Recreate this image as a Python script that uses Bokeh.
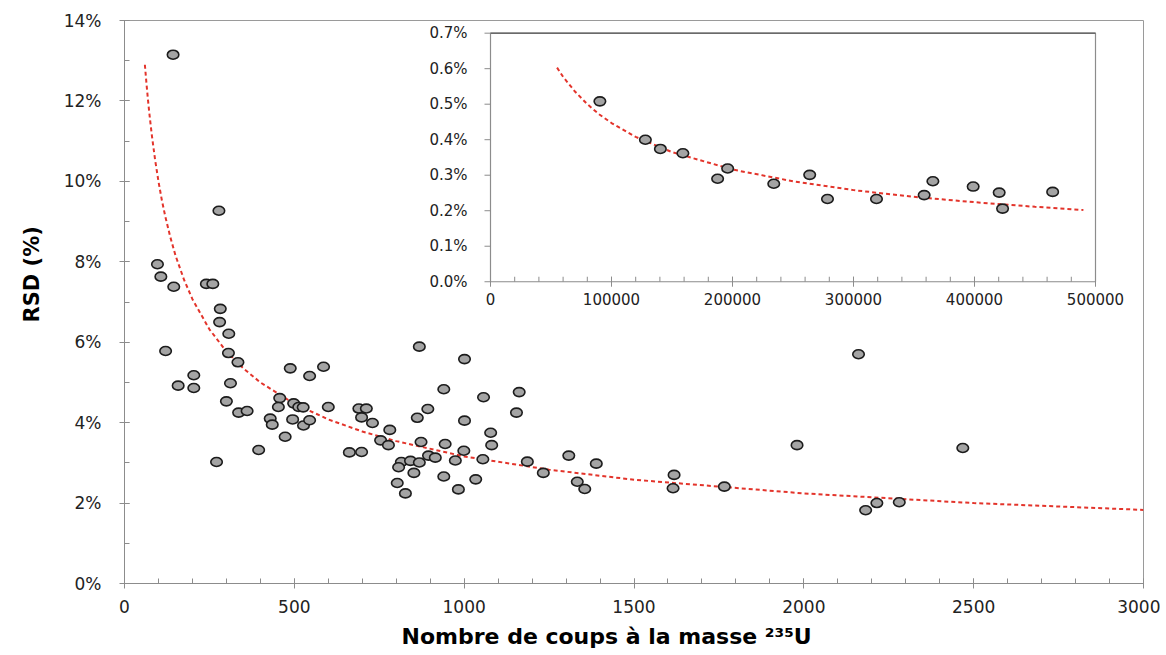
from bokeh.plotting import figure
from bokeh.models import Range1d, SingleIntervalTicker, PrintfTickFormatter, Title
from bokeh.embed import file_html
from bokeh.resources import INLINE
from bokeh.core.properties import value

# ---------------- data ----------------
counts = [143, 278, 97, 107, 145, 241, 260, 282, 280, 307, 121, 306, 334, 488, 586, 545,
          204, 158, 204, 312, 300, 457, 453, 498, 513, 526, 600, 336, 361, 429, 435, 495,
          527, 545, 473, 395, 271, 690, 712, 698, 730, 754, 662, 698, 868, 1001, 940, 893,
          862, 1057, 1162, 1154, 1001, 781, 777, 1078, 1081, 873, 944, 999, 895, 915, 815,
          842, 868, 807, 852, 974, 1055, 1186, 1233, 940, 803, 827, 983, 1034, 1308, 1389,
          1333, 1355, 1618, 1615, 1766, 1980, 2161, 2182, 2215, 2281, 2468]
rsd = [13.15, 9.27, 7.94, 7.63, 7.38, 7.45, 7.45, 6.83, 6.50, 6.21, 5.78, 5.73, 5.50, 5.35,
       5.39, 5.16, 5.18, 4.92, 4.86, 4.98, 4.53, 4.61, 4.39, 4.48, 4.39, 4.38, 4.39, 4.25,
       4.29, 4.10, 3.95, 4.08, 3.93, 4.06, 3.65, 3.32, 3.02, 4.35, 4.35, 4.13, 3.99, 3.56,
       3.26, 3.27, 5.89, 5.58, 4.83, 4.34, 4.12, 4.63, 4.76, 4.25, 4.05, 3.82, 3.44, 3.75,
       3.44, 3.52, 3.47, 3.30, 3.18, 3.13, 3.02, 3.05, 3.01, 2.89, 2.75, 3.06, 3.09, 3.03,
       2.75, 2.66, 2.50, 2.24, 2.34, 2.59, 3.18, 2.98, 2.53, 2.35, 2.70, 2.37, 2.41, 3.44,
       5.70, 1.82, 2.00, 2.02, 3.37]

fit_counts = [60, 65, 70, 75, 80, 90, 100, 110, 120, 135, 150, 175, 200, 250, 300, 350,
              400, 500, 600, 700, 800, 1000, 1250, 1500, 2000, 2500, 3000]
fit_rsd = [12.9, 12.4, 11.95, 11.55, 11.18, 10.54, 10.0, 9.53, 9.13, 8.61, 8.16, 7.56,
           7.07, 6.32, 5.77, 5.35, 5.0, 4.47, 4.08, 3.78, 3.54, 3.16, 2.83, 2.58, 2.24,
           2.0, 1.83]

inset_counts = [90400, 128000, 140400, 159000, 187700, 196000, 234100, 263800, 278500,
                319000, 358400, 365600, 398900, 420400, 423200, 464600]
inset_rsd = [0.508, 0.400, 0.374, 0.362, 0.290, 0.319, 0.276, 0.301, 0.233, 0.233,
             0.244, 0.283, 0.268, 0.251, 0.206, 0.253]

inset_fit_counts = [55000, 60000, 70000, 80000, 90000, 100000, 120000, 150000, 200000,
                    250000, 300000, 350000, 400000, 450000, 490000]
inset_fit_rsd = [0.603, 0.577, 0.535, 0.50, 0.471, 0.447, 0.408, 0.365, 0.316, 0.283,
                 0.258, 0.239, 0.224, 0.211, 0.202]

inset_xticks = [0, 100000, 200000, 300000, 400000, 500000]
inset_xtick_labels = ["0", "100000", "200000", "300000", "400000", "500000"]
inset_xminor = [20000 * i for i in range(26)]
inset_yticks = [0.0, 0.1, 0.2, 0.3, 0.4, 0.5, 0.6, 0.7]
inset_ytick_labels = ["0.0%", "0.1%", "0.2%", "0.3%", "0.4%", "0.5%", "0.6%", "0.7%"]

x_title = "Nombre de coups à la masse ²³⁵U"
y_title = "RSD (%)"

# ---------------- layout ----------------
W, H = 1160, 655
FL, FR, FT, FB = 124, 1143, 20, 584          # main frame box (canvas px)
FW, FH = FR - FL, FB - FT
IL, IR, IT, IB = 490, 1095, 32.7, 281.7       # inset data box (canvas px)

AX = "#8c8c8c"
TXT = "#222222"
TICK_FONT = "DejaVu Sans"
TITLE_FONT = "DejaVu Sans"

p = figure(width=W, height=H, x_range=Range1d(0, 3000), y_range=Range1d(0, 14),
           output_backend="svg", toolbar_location=None,
           min_border_left=FL, min_border_right=W - FR,
           min_border_top=FT, min_border_bottom=H - FB)
p.grid.visible = False
p.outline_line_color = "#9a9a9a"
p.background_fill_color = "white"
p.border_fill_color = "white"

# main axes
p.xaxis.ticker = SingleIntervalTicker(interval=500, num_minor_ticks=5)
p.yaxis.ticker = SingleIntervalTicker(interval=2, num_minor_ticks=2)
p.yaxis.formatter = PrintfTickFormatter(format="%d%%")
for ax in (p.xaxis[0], p.yaxis[0]):
    ax.axis_line_color = AX
    ax.major_tick_line_color = AX
    ax.minor_tick_line_color = AX
    ax.major_tick_in = 5
    ax.major_tick_out = 5
    ax.minor_tick_in = 5
    ax.minor_tick_out = 0
    ax.major_label_text_font = TICK_FONT
    ax.major_label_text_font_size = "17px"
    ax.major_label_text_color = TXT
p.xaxis.major_label_standoff = 11
p.yaxis.major_label_standoff = 18

# axis titles as side titles (start-aligned with an offset along the axis)
p.add_layout(Title(text=y_title, align="left", offset=261, standoff=33,
                   text_font=TITLE_FONT, text_font_style="bold",
                   text_font_size="21px", text_color="black"), "left")
p.add_layout(Title(text=x_title, align="left", offset=277, standoff=13,
                   text_font=TITLE_FONT, text_font_style="bold",
                   text_font_size="22px", text_color="black"), "below")

# main data
p.line(fit_counts, fit_rsd, line_color="#e3342b", line_width=2, line_dash="4 3")
p.ellipse(counts, rsd, width=11.5, height=9, width_units="screen", height_units="screen",
          fill_color="#a4a4a4", line_color="#1c1c1c", line_width=1.6)

# ---------------- inset, drawn through extra ranges ----------------
sx = 500000.0 / (IR - IL)
xs0 = -(IL - FL) * sx
sy = 0.7 / (IB - IT)
ys0 = -(FB - IB) * sy
p.extra_x_ranges = {"ix": Range1d(xs0, xs0 + FW * sx)}
p.extra_y_ranges = {"iy": Range1d(ys0, ys0 + FH * sy)}
R = dict(x_range_name="ix", y_range_name="iy")

# frame of the inset
p.quad(left=[0], right=[500000], bottom=[0], top=[0.7], fill_color="white",
       line_color=AX, line_width=1.2, **R)
p.segment(x0=[0], y0=[0.7], x1=[500000], y1=[0.7], line_color="#6a6a6a",
          line_width=1.4, **R)
# x ticks
p.segment(x0=inset_xminor, y0=[0] * len(inset_xminor), x1=inset_xminor,
          y1=[5 * sy] * len(inset_xminor), line_color=AX, line_width=1, **R)
p.segment(x0=inset_xticks, y0=[-5 * sy] * len(inset_xticks), x1=inset_xticks,
          y1=[5 * sy] * len(inset_xticks), line_color=AX, line_width=1, **R)
# y ticks
p.segment(x0=[-6 * sx] * len(inset_yticks), y0=inset_yticks, x1=[0] * len(inset_yticks),
          y1=inset_yticks, line_color=AX, line_width=1, **R)
# tick labels
p.text(x=inset_xticks, y=[0] * len(inset_xticks), text=inset_xtick_labels,
       text_align="center", text_baseline="middle", y_offset=17,
       text_font=value(TICK_FONT), text_font_size="15px", text_color=TXT, **R)
p.text(x=[0] * len(inset_yticks), y=inset_yticks, text=inset_ytick_labels,
       text_align="right", text_baseline="middle", x_offset=-23,
       text_font=value(TICK_FONT), text_font_size="15px", text_color=TXT, **R)

# inset data
p.line(inset_fit_counts, inset_fit_rsd, line_color="#e3342b", line_width=2,
       line_dash="4 3", **R)
p.ellipse(inset_counts, inset_rsd, width=11.5, height=9, width_units="screen",
          height_units="screen", fill_color="#a4a4a4", line_color="#1c1c1c",
          line_width=1.6, **R)

open("out.html", "w").write(file_html(p, INLINE))
